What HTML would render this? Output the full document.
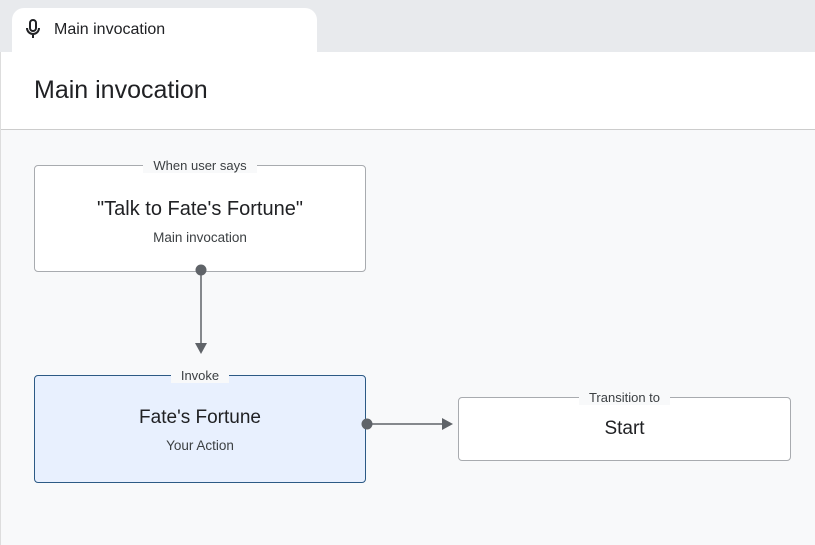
<!DOCTYPE html>
<html><head><style>
body{margin:0;width:815px;height:545px;overflow:hidden;font-family:"Liberation Sans",Arial,sans-serif;background:#f8f9fa;position:relative}
.top{position:absolute;left:0;top:0;width:815px;height:52px;background:#e8eaed}
.tab{position:absolute;left:12px;top:8px;width:305px;height:44px;background:#fff;border-radius:12px 12px 0 0}
.tab span{position:absolute;left:42px;top:13px;font-size:16px;color:#202124}
.hdr{position:absolute;left:0;top:52px;width:815px;height:77px;background:#fff;border-bottom:1.5px solid #ccc}
.hdr span{position:absolute;left:34px;top:24px;font-size:25px;color:#202124}
.lb{position:absolute;left:0;top:52px;width:1px;height:493px;background:#ddd}
.box{position:absolute;border:1px solid #a8abaf;border-radius:4px;background:#fff;text-align:center;box-sizing:border-box}
.lab{position:absolute;left:0;right:0;top:-9px;text-align:center}
.lab span{background:#f8f9fa;padding:0 10px;font-size:13px;color:#3c4043}
.t{font-size:20px;color:#202124}
.s{font-size:13.5px;color:#3c4043}
</style></head><body>
<div class="top"></div>
<div class="tab"><svg style="position:absolute;left:14px;top:11px" width="14" height="20" viewBox="0 0 14 20"><rect x="4" y="1" width="6" height="11" rx="3" fill="none" stroke="#202124" stroke-width="2"/><path d="M1 9a6 6 0 0 0 12 0M7 15v4" fill="none" stroke="#202124" stroke-width="2"/></svg><span>Main invocation</span></div>
<div class="hdr"><span>Main invocation</span></div>
<div class="lb"></div>
<div class="box" style="left:34px;top:165px;width:332px;height:107px">
 <div class="lab"><span>When user says</span></div>
 <div class="t" style="margin-top:32px">"Talk to Fate's Fortune"</div>
 <div class="s" style="margin-top:9px">Main invocation</div>
</div>
<div class="box" style="left:34px;top:375px;width:332px;height:108px;background:#e8f0fe;border-color:#2c5a85">
 <div class="lab"><span style="background:#f8f9fa">Invoke</span></div>
 <div class="t" style="margin-top:31px;font-size:19px">Fate's Fortune</div>
 <div class="s" style="margin-top:9px">Your Action</div>
</div>
<div class="box" style="left:458px;top:397px;width:333px;height:64px">
 <div class="lab"><span>Transition to</span></div>
 <div class="t" style="margin-top:20px;font-size:19px">Start</div>
</div>
<svg style="position:absolute;left:0;top:0" width="815" height="545">
<circle cx="201" cy="270" r="5.5" fill="#5f6368"/>
<line x1="201" y1="270" x2="201" y2="344" stroke="#5f6368" stroke-width="1.5"/>
<path d="M195 343h12l-6 11z" fill="#5f6368"/>
<circle cx="367" cy="424" r="5.5" fill="#5f6368"/>
<line x1="367" y1="424" x2="443" y2="424" stroke="#5f6368" stroke-width="1.5"/>
<path d="M442 418v12l11-6z" fill="#5f6368"/>
</svg>
</body></html>
